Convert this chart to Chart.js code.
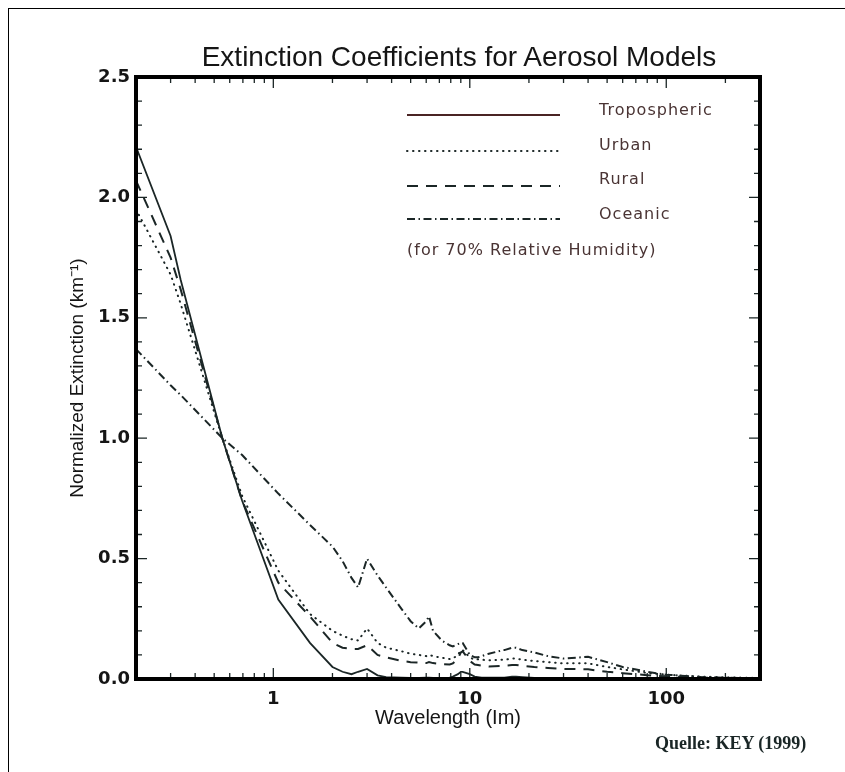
<!DOCTYPE html>
<html>
<head>
<meta charset="utf-8">
<script src="https://cdn.jsdelivr.net/npm/chart.js@4.4.1/dist/chart.umd.min.js"></script>
<style>
  html, body { margin: 0; padding: 0; background: #fff; }
  body { width: 845px; height: 772px; position: relative; overflow: hidden; }
  #page-frame { position: absolute; left: 8px; top: 8px; width: 900px; height: 900px;
    border-top: 1px solid #000; border-left: 1px solid #000; }
  #chart { position: absolute; left: 0; top: 0; }
  #title { position: absolute; left: 0; top: 43px; width: 918px; text-align: center; white-space: nowrap;
    font: 28px "Liberation Sans", Arial, sans-serif; line-height: 28px; color: #151515; }
  #source { position: absolute; left: 655px; top: 733px; white-space: nowrap;
    font: bold 18px "Liberation Serif", "Times New Roman", serif; color: #1a2626; }
</style>
</head>
<body>
<div id="page-frame"></div>
<canvas id="chart" width="845" height="772"></canvas>
<div id="title">Extinction Coefficients for Aerosol Models</div>
<div id="source">Quelle: KEY (1999)</div>
<script>
// LOWTRAN wavelength grid (micrometres)
const wavelengths = [0.2, 0.3, 0.337, 0.55, 0.694, 1.06, 1.536, 2.0, 2.25, 2.5,
  2.7, 3.0, 3.392, 3.75, 4.5, 5.0, 5.5, 6.0, 6.2, 6.5,
  7.2, 7.9, 8.2, 8.7, 9.0, 9.2, 10.0, 10.591, 11.0, 11.5,
  12.5, 14.8, 15.0, 16.4, 17.2, 18.5, 21.3, 25.0, 30.0, 40.0,
  50.0, 60.0, 80.0, 100.0, 150.0, 200.0, 300.0];

const tropospheric = [2.21, 1.84, 1.66, 1.0, 0.74, 0.33, 0.15, 0.05, 0.03, 0.02,
  0.03, 0.042, 0.015, 0.008, 0.006, 0.005, 0.005, 0.006, 0.006, 0.005,
  0.005, 0.006, 0.01, 0.02, 0.03, 0.03, 0.02, 0.01, 0.008, 0.006,
  0.006, 0.006, 0.006, 0.01, 0.01, 0.008, 0.005, 0.005, 0.004, 0.004,
  0.003, 0.003, 0.003, 0.002, 0.002, 0.001, 0.001];

const urban = [1.95, 1.68, 1.56, 1.0, 0.76, 0.45, 0.27, 0.2, 0.18, 0.165,
  0.16, 0.21, 0.15, 0.13, 0.115, 0.105, 0.1, 0.095, 0.1, 0.095,
  0.088, 0.083, 0.085, 0.1, 0.12, 0.12, 0.09, 0.08, 0.082, 0.08,
  0.078, 0.08, 0.08, 0.085, 0.085, 0.08, 0.075, 0.07, 0.065, 0.065,
  0.05, 0.04, 0.025, 0.018, 0.01, 0.007, 0.004];

const rural = [2.07, 1.75, 1.62, 1.0, 0.74, 0.40, 0.26, 0.15, 0.13, 0.125,
  0.125, 0.14, 0.10, 0.09, 0.075, 0.07, 0.068, 0.066, 0.07, 0.066,
  0.062, 0.06, 0.065, 0.085, 0.11, 0.115, 0.075, 0.06, 0.058, 0.055,
  0.052, 0.055, 0.055, 0.058, 0.058, 0.055, 0.05, 0.046, 0.042, 0.04,
  0.03, 0.024, 0.016, 0.011, 0.006, 0.004, 0.002];

const oceanic = [1.37, 1.22, 1.18, 1.0, 0.93, 0.77, 0.64, 0.55, 0.49, 0.42,
  0.38, 0.5, 0.43, 0.38, 0.29, 0.24, 0.21, 0.24, 0.26, 0.2,
  0.16, 0.14, 0.135, 0.145, 0.15, 0.15, 0.10, 0.09, 0.09, 0.095,
  0.105, 0.12, 0.12, 0.13, 0.13, 0.12, 0.11, 0.095, 0.085, 0.092,
  0.07, 0.05, 0.03, 0.018, 0.008, 0.005, 0.003];

const seriesNames = ["Tropospheric", "Urban", "Rural", "Oceanic"];
const xLabelValues = [1, 10, 100];
const xTickLabels = ["1", "10", "100"];
const yTickLabels = ["0.0", "0.5", "1.0", "1.5", "2.0", "2.5"];

const X_MIN = 0.2, X_MAX = 300;
const lineColor = "#1b2626";

const pts = vals => wavelengths.map((w, i) => ({ x: w, y: vals[i] }));

// IDL-style frame, inward ticks and the legend block
const idlFrame = {
  id: "idlFrame",
  afterDraw(chart) {
    const { ctx, chartArea: a, scales: { x, y } } = chart;
    ctx.save();

    ctx.strokeStyle = lineColor;
    ctx.lineWidth = 1.3;
    ctx.setLineDash([]);
    ctx.beginPath();
    y.ticks.forEach(t => {
      const py = y.getPixelForValue(t.value);
      const len = Math.round(t.value * 10) % 5 === 0 ? 11 : 6;
      ctx.moveTo(a.left, py); ctx.lineTo(a.left + len, py);
      ctx.moveTo(a.right, py); ctx.lineTo(a.right - len, py);
    });
    x.ticks.forEach(t => {
      const px = x.getPixelForValue(t.value);
      const len = t.major ? 11 : 6;
      ctx.moveTo(px, a.bottom); ctx.lineTo(px, a.bottom - len);
      ctx.moveTo(px, a.top); ctx.lineTo(px, a.top + len);
    });
    ctx.stroke();

    ctx.lineWidth = 4;
    ctx.strokeStyle = "#000";
    ctx.strokeRect(a.left, a.top, a.right - a.left, a.bottom - a.top);

    // legend
    const rows = [115, 151, 186, 219];
    const textRows = [111, 146, 180, 215];
    ctx.font = '16px "DejaVu Sans", sans-serif';
    if ("letterSpacing" in ctx) ctx.letterSpacing = "1px";
    ctx.textBaseline = "middle";
    ctx.textAlign = "left";
    chart.data.datasets.forEach((ds, i) => {
      ctx.beginPath();
      ctx.setLineDash(ds.borderDash || []);
      ctx.lineCap = ds.borderCapStyle || "butt";
      ctx.lineWidth = ds.borderWidth;
      ctx.strokeStyle = i === 0 ? "#4a2424" : ds.borderColor;
      ctx.moveTo(407, rows[i]);
      ctx.lineTo(560, rows[i]);
      ctx.stroke();
      ctx.fillStyle = "#4a3434";
      ctx.fillText(ds.label, 599, textRows[i]);
    });
    ctx.fillText("(for 70% Relative Humidity)", 407, 251);
    ctx.restore();
  }
};

new Chart(document.getElementById("chart"), {
  type: "line",
  data: {
    datasets: [{
      label: seriesNames[0],
      data: pts(tropospheric),
      borderColor: lineColor,
      borderWidth: 1.8,
      borderDash: []
    }, {
      label: seriesNames[1],
      data: pts(urban),
      borderColor: lineColor,
      borderWidth: 2,
      borderDash: [0.5, 5.5],
      borderCapStyle: "round"
    }, {
      label: seriesNames[2],
      data: pts(rural),
      borderColor: lineColor,
      borderWidth: 2,
      borderDash: [11, 8]
    }, {
      label: seriesNames[3],
      data: pts(oceanic),
      borderColor: lineColor,
      borderWidth: 2,
      borderDash: [8, 3.5, 1.5, 3.5]
    }]
  },
  options: {
    responsive: false,
    animation: false,
    parsing: true,
    elements: { point: { radius: 0 }, line: { tension: 0 } },
    layout: { padding: { top: 77, right: 85, bottom: 0, left: 0 } },
    plugins: { legend: { display: false }, tooltip: { enabled: false }, title: { display: false } },
    scales: {
      x: {
        type: "logarithmic",
        min: X_MIN,
        max: X_MAX,
        grid: { display: false, drawTicks: false },
        border: { display: false },
        afterBuildTicks(scale) {
          const ticks = [];
          for (let e = -1; e <= 2; e++) {
            for (let m = 1; m <= 9; m++) {
              const v = +(m * Math.pow(10, e)).toPrecision(6);
              if (v >= X_MIN && v <= X_MAX) ticks.push({ value: v, major: m === 1 });
            }
          }
          scale.ticks = ticks;
        },
        afterFit(scale) { scale.height = 93; },
        ticks: {
          autoSkip: false,
          maxRotation: 0,
          padding: 10,
          color: "#151515",
          font: { family: "DejaVu Sans", size: 18, weight: "bold" },
          callback: v => {
            const i = xLabelValues.indexOf(v);
            return i >= 0 ? xTickLabels[i] : "";
          }
        },
        title: {
          display: true,
          text: "Wavelength (Im)",
          color: "#151515",
          font: { family: "Liberation Sans", size: 20 },
          padding: { top: 0, bottom: 42 }
        }
      },
      y: {
        min: 0,
        max: 2.5,
        grid: { display: false, drawTicks: false },
        border: { display: false },
        afterFit(scale) { scale.width = 136; },
        ticks: {
          stepSize: 0.1,
          autoSkip: false,
          padding: 6,
          color: "#151515",
          font: { family: "DejaVu Sans", size: 18, weight: "bold" },
          callback: v => {
            const k = Math.round(v * 10);
            return k % 5 === 0 ? yTickLabels[k / 5] : "";
          }
        },
        title: {
          display: true,
          text: "Normalized Extinction (km⁻¹)",
          color: "#151515",
          font: { family: "Liberation Sans", size: 19 },
          padding: { top: 66, bottom: 0 }
        }
      }
    }
  },
  plugins: [idlFrame]
});
</script>
</body>
</html>
